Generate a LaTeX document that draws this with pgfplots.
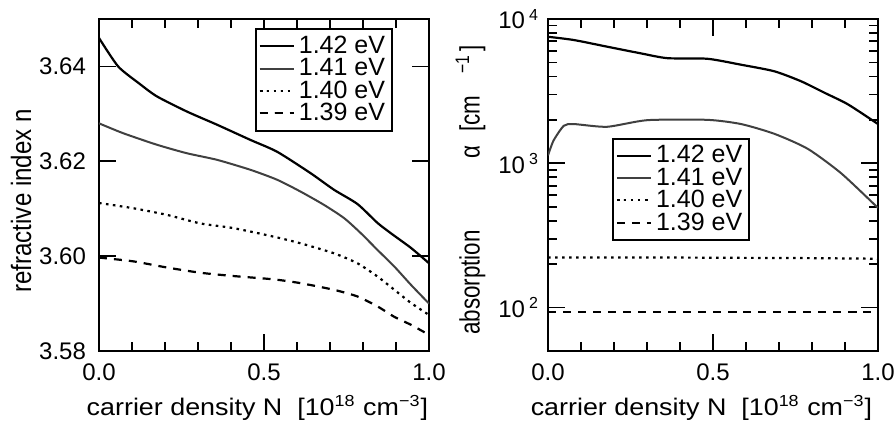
\documentclass[border=0pt]{standalone}
\usepackage{fontspec}
\setmainfont{Liberation Sans}
\usepackage{graphicx}
\usepackage{pgfplots}
\pgfplotsset{compat=1.18}

\pgfplotsset{
  myax/.style={
    scale only axis, width=165pt, height=166pt,
    xmin=0, xmax=1,
    xtick={0,0.5,1}, minor xtick={0.1,0.2,0.3,0.4,0.6,0.7,0.8,0.9},
    xticklabels={0.0,0.5,1.0},
    axis line style={line width=1pt},
    every tick/.style={black, line width=0.9pt},
    major tick length=8.5pt, minor tick length=4.5pt,
    tick label style={font=\fontsize{12}{13}\selectfont},
    xticklabel style={yshift=-3pt},
    legend cell align=left,
    legend style={font=\fontsize{12.5}{13}\selectfont, draw=black, line width=1pt,
      inner sep=1.5pt, row sep=-3pt},
    xlabel style={font=\fontsize{12}{14}\selectfont, anchor=base},
    ylabel style={font=\fontsize{14}{16}\selectfont, anchor=center},
  },
  s142/.style={black, line width=1.1pt, smooth, tension=0.4},
  s141/.style={black!75, line width=1pt, smooth, tension=0.4},
  s140/.style={black, line width=1.1pt, dash pattern=on 1.3pt off 2.2pt, smooth, tension=0.4},
  s139/.style={black, line width=1.1pt, dash pattern=on 4pt off 3.5pt, smooth, tension=0.4},
}

\begin{document}
\begin{tikzpicture}
\useasboundingbox (-49.5pt,-38pt) rectangle (397.5pt,175.5pt);

\begin{axis}[myax,
  ymin=3.58, ymax=3.65,
  ytick={3.58,3.60,3.62,3.64},
  yticklabels={3.58,3.60,3.62,3.64},
  yticklabel style={xshift=-3pt},
  xlabel={\scalebox{1.12}[1]{carrier density N\ \ [10\textsuperscript{18} cm\textsuperscript{−3}]}},
  xlabel style={at={(axis description cs:0.48,-0.193)}},
  ylabel={\scalebox{0.86}[1]{refractive index n}},
  ylabel style={at={(axis description cs:-0.236,0.452)}},
  legend style={at={(axis description cs:0.891,0.973)}, anchor=north east},
]
\addplot[s142] coordinates {(0,3.646) (0.058,3.640) (0.12,3.6365) (0.175,3.6337) (0.266,3.6305) (0.358,3.6277) (0.459,3.6245) (0.54,3.6220) (0.641,3.6175) (0.712,3.6140) (0.783,3.6110) (0.844,3.6070) (0.885,3.6048) (0.946,3.6017) (1.0,3.5985)};
\addplot[s141] coordinates {(0,3.628) (0.074,3.6259) (0.175,3.6235) (0.266,3.6217) (0.358,3.6203) (0.459,3.6182) (0.54,3.6161) (0.611,3.6136) (0.682,3.6108) (0.743,3.6080) (0.794,3.6048) (0.844,3.6013) (0.895,3.5978) (0.946,3.5939) (1.0,3.5900)};
\addplot[s140] coordinates {(0,3.6112) (0.104,3.6101) (0.206,3.6087) (0.307,3.6069) (0.408,3.6059) (0.53,3.6041) (0.611,3.6027) (0.712,3.6006) (0.783,3.5985) (0.844,3.5957) (0.895,3.5929) (0.946,3.5901) (1.0,3.5876)};
\addplot[s139] coordinates {(0,3.5997) (0.104,3.5989) (0.206,3.5976) (0.307,3.5965) (0.408,3.5958) (0.53,3.5951) (0.611,3.5943) (0.712,3.5929) (0.783,3.5915) (0.844,3.5894) (0.895,3.5872) (0.946,3.5855) (1.0,3.5834)};
\legend{1.42 eV, 1.41 eV, 1.40 eV, 1.39 eV}
\end{axis}

\begin{axis}[myax, at={(224.5pt,0pt)},
  ymode=log, ymin=50, ymax=10000,
  ytick={100,1000,10000},
  yticklabels={10\,\textsuperscript{2},10\,\textsuperscript{3},10\,\textsuperscript{4}},
  yticklabel style={xshift=-1pt},
  xlabel={\scalebox{1.12}[1]{carrier density N\ \ [10\textsuperscript{18} cm\textsuperscript{−3}]}},
  xlabel style={at={(axis description cs:0.465,-0.193)}},
  ylabel={\scalebox{0.8}[1]{absorption\hspace{45pt}α\hspace{8.5pt}[cm\hspace{14pt}\textsuperscript{−1}\hspace{2pt}]}},
  ylabel style={at={(axis description cs:-0.235,0.485)}},
  legend style={at={(axis description cs:0.193,0.643)}, anchor=north west},
]
\addplot[s142] coordinates {(0,7530) (0.078,7150) (0.179,6430) (0.281,5780) (0.362,5350) (0.483,5300) (0.585,4820) (0.686,4340) (0.767,3700) (0.838,3080) (0.909,2560) (1.0,1870)};
\addplot[s141] coordinates {(0,1135) (0.017,1440) (0.048,1820) (0.078,1870) (0.179,1790) (0.301,1990) (0.483,2000) (0.585,1870) (0.686,1600) (0.787,1260) (0.889,850) (1.0,490)};
\addplot[s140] coordinates {(0,222) (0.2,222) (0.4,222) (0.6,221) (0.8,220) (1.0,218)};
\addplot[s139] coordinates {(0,93) (0.2,93) (0.4,93) (0.6,93) (0.8,93) (1.0,93)};
\legend{1.42 eV, 1.41 eV, 1.40 eV, 1.39 eV}
\end{axis}
\end{tikzpicture}
\end{document}
